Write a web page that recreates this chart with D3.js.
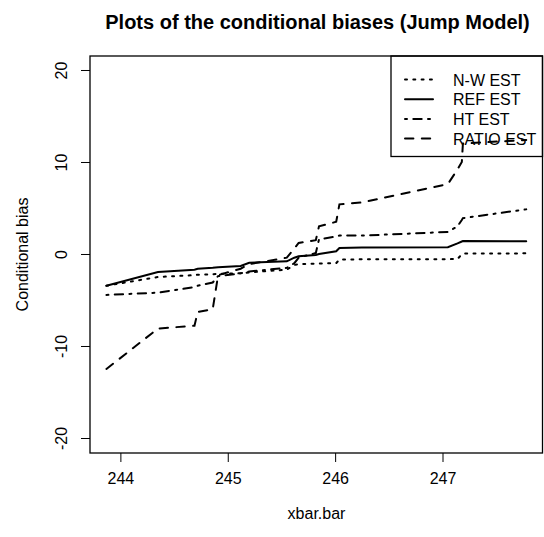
<!DOCTYPE html>
<html lang="en">
<head>
    <meta charset="UTF-8">
    <title>Conditional biases</title>
    <script src="https://d3js.org/d3.v7.min.js"></script>
    <style>
        body { margin: 0; background: #fff; }
        text { font-family: "Liberation Sans", Arial, sans-serif; fill: #000; }
    </style>
</head>
<body>
    <div id="chart"></div>

    <script>
        // values
        var xbar     = [243.87, 244.35, 244.69, 244.72, 244.86, 244.91, 245.12, 245.20, 245.55, 245.62, 245.66, 245.82, 245.85, 246.01, 246.04, 246.25, 247.05, 247.14, 247.18, 247.19, 247.78];
        var nwEst    = [-3.45, -2.5, -2.3, -2.25, -2.2, -2.15, -2.1, -2.0, -1.7, -1.2, -1.1, -1.05, -1.03, -1.0, -0.6, -0.58, -0.56, -0.55, -0.03, 0.05, 0.07];
        var refEst   = [-3.45, -1.95, -1.7, -1.6, -1.5, -1.45, -1.3, -0.95, -0.8, -0.4, -0.25, -0.1, 0.0, 0.3, 0.65, 0.7, 0.73, 1.15, 1.36, 1.41, 1.38];
        var htEst    = [-4.45, -4.2, -3.6, -3.45, -3.1, -2.4, -2.1, -1.9, -1.5, -1.0, -0.4, 0.1, 1.6, 1.9, 2.0, 2.0, 2.4, 3.0, 3.7, 3.9, 4.85];
        var ratioEst = [-12.5, -8.1, -7.8, -6.3, -6.0, -2.3, -1.6, -1.1, -0.4, 0.6, 1.2, 1.5, 3.0, 3.5, 5.4, 5.6, 7.6, 9.2, 10.0, 12.0, 12.4];

        var legendLabels = ["N-W EST", "REF EST", "HT EST", "RATIO EST"];
        var xTicks = [244, 245, 246, 247];
        var yTicks = [-20, -10, 0, 10, 20];

        var width = 544, height = 537;
        var margin = {top: 56, right: 1, bottom: 84, left: 90};

        var svg = d3.select("#chart")
            .append("svg")
            .attr("width", width)
            .attr("height", height);

        var x = d3.scaleLinear()
            .domain([243.717, 247.936])
            .range([margin.left, width - margin.right]);

        var y = d3.scaleLinear()
            .domain([-21.63, 21.52])
            .range([height - margin.bottom, margin.top]);

        // R style line types
        var series = [
            {vals: nwEst,    dash: "2,6.3"},
            {vals: refEst,   dash: null},
            {vals: htEst,    dash: "2,6.3,8.4,6.3"},
            {vals: ratioEst, dash: "8.4,8.4"}
        ];

        var line = d3.line()
            .x(function(d) { return x(d[0]); })
            .y(function(d) { return y(d[1]); });

        series.forEach(function(s) {
            svg.append("path")
                .datum(xbar.map(function(v, i) { return [v, s.vals[i]]; }))
                .attr("d", line)
                .attr("fill", "none")
                .attr("stroke", "#000")
                .attr("stroke-width", 2)
                .attr("stroke-linecap", "round")
                .attr("stroke-dasharray", s.dash);
        });

        // plain hyphen minus like R does
        var fmt = function(d) { return String(d); };

        // axes
        var xAxis = svg.append("g")
            .attr("transform", "translate(0," + (height - margin.bottom) + ")")
            .call(d3.axisBottom(x).tickValues(xTicks).tickSize(9).tickPadding(11).tickFormat(fmt));
        xAxis.select(".domain").remove();
        xAxis.selectAll("text").style("font-size", "16px").attr("font-family", null);

        var yAxis = svg.append("g")
            .attr("transform", "translate(" + margin.left + ",0)")
            .call(d3.axisLeft(y).tickValues(yTicks).tickSize(9).tickFormat(fmt));
        yAxis.select(".domain").remove();
        yAxis.selectAll("text")
            .style("font-size", "16px")
            .attr("font-family", null)
            .attr("x", null).attr("dy", null).attr("y", null)
            .attr("text-anchor", "middle")
            .attr("transform", "translate(-23,0) rotate(-90)");
        svg.selectAll(".tick line").attr("stroke", "#000");

        // plot box
        svg.append("rect")
            .attr("x", margin.left)
            .attr("y", margin.top)
            .attr("width", width - margin.left - margin.right - 0.5)
            .attr("height", height - margin.top - margin.bottom)
            .attr("fill", "none")
            .attr("stroke", "#000")
            .attr("stroke-width", 1.3);

        // legend
        var lg = svg.append("g");
        lg.append("rect")
            .attr("x", 391).attr("y", margin.top)
            .attr("width", width - margin.right - 391.5).attr("height", 100.5)
            .attr("fill", "none").attr("stroke", "#000").attr("stroke-width", 1.3);
        legendLabels.forEach(function(lab, i) {
            var yy = 79.5 + i * 19.7;
            lg.append("line")
                .attr("x1", 405).attr("x2", 433)
                .attr("y1", yy).attr("y2", yy)
                .attr("stroke", "#000").attr("stroke-width", 2)
                .attr("stroke-linecap", "round")
                .attr("stroke-dasharray", series[i].dash);
            lg.append("text")
                .attr("x", 453).attr("y", yy + 6)
                .style("font-size", "16px")
                .text(lab);
        });

        // titles
        svg.append("text")
            .attr("x", (margin.left + width - margin.right) / 2 + 1)
            .attr("y", 29)
            .attr("text-anchor", "middle")
            .style("font-size", "20px")
            .style("font-weight", "bold")
            .text("Plots of the conditional biases (Jump Model)");

        svg.append("text")
            .attr("x", (margin.left + width - margin.right) / 2)
            .attr("y", 519)
            .attr("text-anchor", "middle")
            .style("font-size", "16px")
            .text("xbar.bar");

        svg.append("text")
            .attr("transform", "translate(28," + ((margin.top + height - margin.bottom) / 2) + ") rotate(-90)")
            .attr("text-anchor", "middle")
            .style("font-size", "16px")
            .text("Conditional bias");
    </script>
</body>
</html>
